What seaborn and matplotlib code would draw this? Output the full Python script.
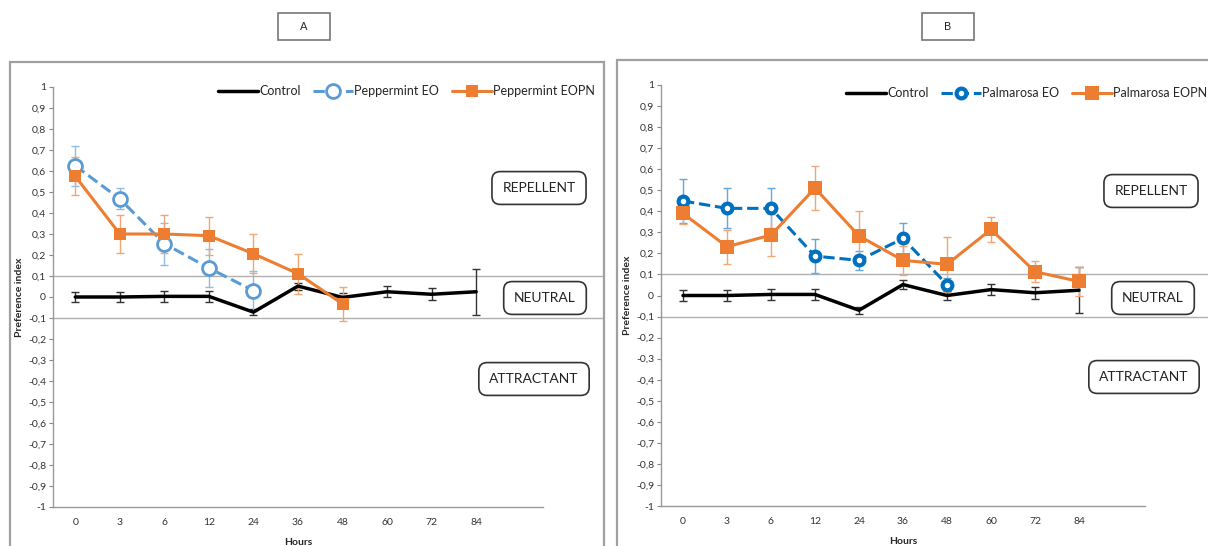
import numpy as np
import seaborn as sns
import matplotlib.pyplot as plt
from matplotlib.patches import Rectangle


hours = ["0", "3", "6", "12", "24", "36", "48", "60", "72", "84"]

# panel A
ctrl_a = [0.0, 0.0, 0.003, 0.003, -0.072, 0.052, -0.002, 0.025, 0.013, 0.025]
ctrl_a_err = [0.025, 0.025, 0.027, 0.027, 0.015, 0.017, 0.022, 0.027, 0.028, 0.11]
pep_eo = [0.625, 0.467, 0.254, 0.138, 0.03]
pep_eo_err = [0.095, 0.05, 0.1, 0.09, 0.095]
pep_eopn = [0.575, 0.30, 0.30, 0.292, 0.206, 0.111, -0.033]
pep_eopn_err = [0.09, 0.09, 0.09, 0.09, 0.092, 0.095, 0.08]

# panel B
ctrl_b = [0.0, 0.0, 0.005, 0.005, -0.07, 0.052, 0.0, 0.028, 0.013, 0.025]
ctrl_b_err = [0.025, 0.025, 0.027, 0.027, 0.017, 0.022, 0.022, 0.027, 0.028, 0.11]
pal_eo = [0.449, 0.414, 0.414, 0.187, 0.167, 0.271, 0.052]
pal_eo_err = [0.105, 0.095, 0.095, 0.082, 0.045, 0.075, 0.03]
pal_eopn = [0.39, 0.232, 0.287, 0.51, 0.283, 0.167, 0.148, 0.314, 0.113, 0.067]
pal_eopn_err = [0.05, 0.08, 0.1, 0.105, 0.12, 0.07, 0.13, 0.058, 0.05, 0.07]

W, H = 1208, 546

def fx(x):
    return x / W

def fy(y):
    return 1 - y / H


sns.set_style("white")
plt.rcParams['font.family'] = ['Lato', 'DejaVu Sans']

fig = plt.figure(figsize=(W / 100, H / 100), dpi=100)


def tick_text(v):
    if abs(v) < 1e-9:
        return "0"
    return ("%g" % v).replace(".", ",")


def draw_panel(left, right, top, bottom, series, frame, legend_pos, letter_x, boxes):
    ax = fig.add_axes([fx(left), fy(bottom), fx(right) - fx(left), fy(top) - fy(bottom)])

    # outer frame
    fig.patches.append(Rectangle((fx(frame[0]), fy(H + 20)), fx(frame[1]) - fx(frame[0]),
                                 fy(frame[2]) - fy(H + 20), transform=fig.transFigure,
                                 fill=False, edgecolor="#a0a0a0", lw=1.6, zorder=0))

    for vals, err, color, ecolor, kw, label in series:
        pos = np.arange(len(vals))
        ax.errorbar(pos, vals, yerr=err, fmt='none', ecolor=ecolor, elinewidth=1,
                    capsize=3, capthick=1, zorder=2)
        sns.lineplot(x=pos, y=vals, ax=ax, color=color, label=label, zorder=3, **kw)

    ax.set_xlim(-0.5, 10.5)
    ax.set_ylim(-1, 1)
    yt = np.round(np.arange(-1, 1.01, 0.1), 1)
    ax.set_yticks(yt)
    ax.set_yticklabels([tick_text(v) for v in yt], fontsize=7.5, color="#333333")
    ax.set_xticks(np.arange(10))
    ax.set_xticklabels(hours, fontsize=7.5, color="#333333")
    ax.set_xticks(np.arange(-0.5, 11, 1), minor=True)
    ax.tick_params(axis='x', which='major', length=0, pad=8)
    ax.tick_params(axis='x', which='minor', length=3, color="#888888", direction='out')
    ax.tick_params(axis='y', length=3, color="#888888", direction='out', pad=2, left=True)
    for s in ["top", "right"]:
        ax.spines[s].set_visible(False)
    for s in ["left", "bottom"]:
        ax.spines[s].set_color("#999999")
        ax.spines[s].set_linewidth(1)
    ax.set_xlabel("Hours", fontsize=7.5, fontweight='bold', labelpad=8)
    ax.set_ylabel("Preference index", fontsize=7.5, fontweight='bold', labelpad=3)

    ext = (frame[1] - left) / (right - left)
    for yv in [0.1, -0.1]:
        ax.axhline(yv, xmin=0, xmax=ext, color="#b0b0b0", lw=1, clip_on=False, zorder=1)

    h, l = ax.get_legend_handles_labels()
    if ax.get_legend():
        ax.get_legend().remove()
    fig.legend(h, l, loc='center left', bbox_to_anchor=(fx(legend_pos[0]), fy(legend_pos[1])),
               ncol=3, frameon=False, fontsize=9, handlelength=3.2, handletextpad=0.1,
               columnspacing=1.0, borderaxespad=0, borderpad=0)

    # letter box on top
    fig.text(fx(letter_x), fy(27), boxes[0], ha='center', va='center', fontsize=8)
    fig.patches.append(Rectangle((fx(letter_x - 26), fy(40)), fx(52), fy(13) - fy(40),
                                 transform=fig.transFigure, fill=False,
                                 edgecolor="#777777", lw=1.2, zorder=5))

    for txt, cx, cy in boxes[1:]:
        fig.text(fx(cx), fy(cy), txt, ha='center', va='center', fontsize=10, color="#222222",
                 bbox=dict(boxstyle='round,pad=0.75,rounding_size=0.6', fc='white', ec='#333333', lw=1.2))
    return ax


series_a = [
    (ctrl_a, ctrl_a_err, "black", "#333333", dict(lw=2.5), "Control"),
    (pep_eo, pep_eo_err, "#5B9BD5", "#8FBBE5",
     dict(lw=2.2, dashes=[(4, 2.5)], linestyle='--', marker='o', markersize=10,
          markerfacecolor='white', markeredgewidth=2, markeredgecolor="#5B9BD5"), "Peppermint EO"),
    (pep_eopn, pep_eopn_err, "#ED7D31", "#F2A575",
     dict(lw=2.2, marker='s', markersize=8.5, markeredgewidth=0), "Peppermint EOPN"),
]

series_b = [
    (ctrl_b, ctrl_b_err, "black", "#333333", dict(lw=2.5), "Control"),
    (pal_eo, pal_eo_err, "#0070C0", "#5FA8E0",
     dict(lw=2.2, linestyle='--', marker='o', markersize=7,
          markerfacecolor='white', markeredgewidth=3, markeredgecolor="#0070C0"), "Palmarosa EO"),
    (pal_eopn, pal_eopn_err, "#ED7D31", "#F2A575",
     dict(lw=2.2, marker='s', markersize=9.5, markeredgewidth=0), "Palmarosa EOPN"),
]

draw_panel(53, 543, 87, 507, series_a, (10, 604, 62), (218, 91), 304,
           ["A", ("REPELLENT", 539, 188), ("NEUTRAL", 545, 298), ("ATTRACTANT", 534, 379)])
draw_panel(661, 1145, 85, 506, series_b, (617, 1214, 60), (846, 93), 948,
           ["B", ("REPELLENT", 1151, 191), ("NEUTRAL", 1153, 298), ("ATTRACTANT", 1144, 377)])

fig.savefig("out.png", dpi=100)
